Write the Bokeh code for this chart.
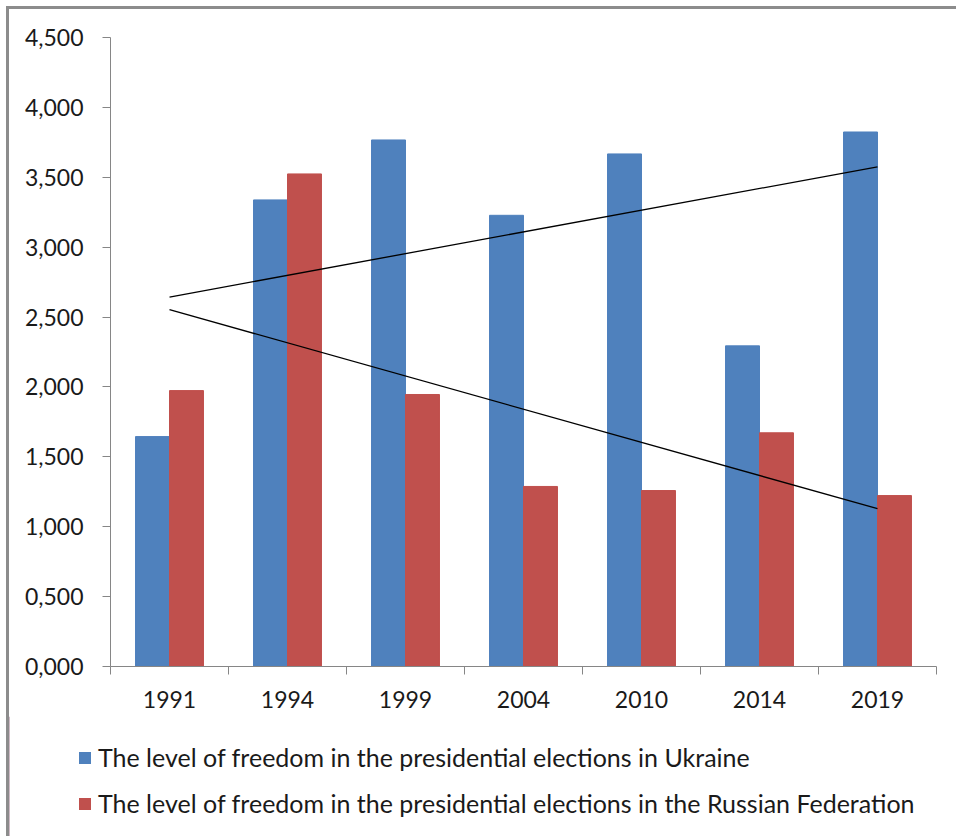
import numpy as np
from bokeh.plotting import figure
from bokeh.layouts import column
from bokeh.models import Range1d, FixedTicker, Legend, LegendItem, ColumnDataSource
from bokeh.embed import file_html
from bokeh.resources import INLINE

years = ["1991", "1994", "1999", "2004", "2010", "2014", "2019"]
ukraine = [1.645, 3.338, 3.767, 3.228, 3.667, 2.294, 3.824]
russia = [1.974, 3.524, 1.946, 1.288, 1.259, 1.672, 1.223]
y_ticks = [0.0, 0.5, 1.0, 1.5, 2.0, 2.5, 3.0, 3.5, 4.0, 4.5]
y_tick_labels = ["0,000", "0,500", "1,000", "1,500", "2,000", "2,500",
                 "3,000", "3,500", "4,000", "4,500"]
label_ua = "The level of freedom in the presidential elections in Ukraine"
label_ru = "The level of freedom in the presidential elections in the Russian Federation"

BLUE = "#4F81BD"
RED = "#C0504D"
AXIS = "#868686"
FONT = "Lato"
TXT = "#1a1a1a"

n = len(years)
centers = np.arange(n) + 0.5
bw = 0.288
W = 947

p = figure(output_backend="svg", toolbar_location=None,
           width=W, height=707,
           min_border_left=101, min_border_top=28, min_border_right=20,
           min_border_bottom=50,
           x_range=Range1d(0, n), y_range=Range1d(0, 4.5))
p.frame_align = False
p.outline_line_color = None
p.background_fill_color = "white"
p.border_fill_color = "white"
p.xgrid.visible = False
p.ygrid.visible = False

src = ColumnDataSource(dict(xu=centers - bw / 2, xr=centers + bw / 2,
                            ua=ukraine, ru=russia))
r_ua = p.vbar(x="xu", top="ua", width=bw, bottom=0, source=src,
              fill_color=BLUE, line_color=BLUE, line_width=1)
r_ru = p.vbar(x="xr", top="ru", width=bw, bottom=0, source=src,
              fill_color=RED, line_color=RED, line_width=1)

# linear trend lines (as the spreadsheet trendline)
idx = np.arange(1, n + 1)
for series in (ukraine, russia):
    k, b = np.polyfit(idx, series, 1)
    xs = [centers[0], centers[-1]]
    ys = [k * idx[0] + b, k * idx[-1] + b]
    p.line(xs, ys, line_color="#000000", line_width=1.3)

# y axis
ya = p.yaxis[0]
ya.ticker = FixedTicker(ticks=y_ticks)
ya.major_label_overrides = {t: s for t, s in zip(y_ticks, y_tick_labels)}
ya.axis_line_color = AXIS
ya.major_tick_line_color = AXIS
ya.major_tick_out = 8
ya.major_tick_in = 0
ya.minor_tick_line_color = None
ya.major_label_standoff = 19
ya.major_label_text_font = FONT
ya.major_label_text_font_size = "23px"
ya.major_label_text_color = TXT

# x axis
xa = p.xaxis[0]
xa.ticker = FixedTicker(ticks=list(centers), minor_ticks=list(range(n + 1)))
xa.major_label_overrides = {float(c): y for c, y in zip(centers, years)}
xa.axis_line_color = AXIS
xa.major_tick_line_color = None
xa.major_tick_out = 0
xa.major_tick_in = 0
xa.minor_tick_line_color = AXIS
xa.minor_tick_out = 8
xa.minor_tick_in = 0
xa.major_label_standoff = 16
xa.major_label_text_font = FONT
xa.major_label_text_font_size = "23px"
xa.major_label_text_color = TXT

# legend panel (second figure below the chart, no axes)
q = figure(output_backend="svg", toolbar_location=None,
           width=W, height=120, min_border=0,
           x_axis_location=None, y_axis_location=None,
           x_range=Range1d(0, 1), y_range=Range1d(0, 1))
q.frame_align = False
q.grid.visible = False
q.outline_line_color = None
q.background_fill_color = "white"
q.border_fill_color = "white"
# swatch renderers: one point placed outside the visible range
g_ua = q.vbar(x=[-50], top=[1], width=0.1, fill_color=BLUE, line_color=None)
g_ru = q.vbar(x=[-50], top=[1], width=0.1, fill_color=RED, line_color=None)

legend = Legend(items=[LegendItem(label=label_ua, renderers=[g_ua]),
                       LegendItem(label=label_ru, renderers=[g_ru])],
                location=(68, 18), orientation="vertical")
legend.glyph_width = 15
legend.glyph_height = 15
legend.label_standoff = 6
legend.spacing = 16
legend.padding = 0
legend.margin = 0
legend.border_line_color = None
legend.background_fill_color = None
legend.label_text_font = FONT
legend.label_text_font_size = "25px"
legend.label_text_color = TXT
q.add_layout(legend, "center")

layout = column(p, q, spacing=0)
layout.styles = {"margin-left": "6px", "margin-top": "6px",
                 "border-left": "3px solid #8c8c8c", "border-top": "3px solid #8c8c8c"}

open("out.html", "w").write(file_html(layout, INLINE))
